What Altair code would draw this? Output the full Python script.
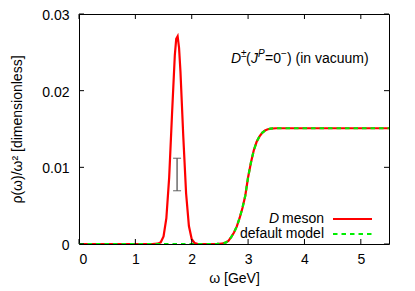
import altair as alt
import pandas as pd

# ---- data ----
omega_red = [0.0, 0.5, 1.0, 1.3, 1.40, 1.45, 1.50, 1.55, 1.60, 1.65, 1.70, 1.725, 1.75,
             1.775, 1.80, 1.85, 1.90, 1.95, 2.00, 2.05, 2.10, 2.20, 2.30, 2.40, 2.45, 2.50,
             2.55, 2.60, 2.65, 2.70, 2.75, 2.80, 2.85, 2.90, 2.95, 3.00, 3.05, 3.10, 3.15,
             3.20, 3.25, 3.30, 3.35, 3.40, 3.50, 4.00, 4.50, 5.00, 5.50]
rho_red = [0.0, 0.0, 0.0, 0.0, 0.00004, 0.00022, 0.00099, 0.00336, 0.00869, 0.01685, 0.02462,
           0.02676, 0.02710, 0.02560, 0.02250, 0.01406, 0.00662, 0.00235, 0.00063, 0.00013,
           0.00002, 0.0, 0.0, 0.0, 0.00001, 0.00003, 0.00008, 0.00018, 0.00040, 0.00090,
           0.00150, 0.00230, 0.00340, 0.00470, 0.00630, 0.00870, 0.01060, 0.01220, 0.01330,
           0.01400, 0.01450, 0.01480, 0.01497, 0.01505, 0.01510, 0.01510, 0.01510, 0.01510,
           0.01510]

omega_green = [0.0, 1.0, 2.0, 2.40, 2.45, 2.50, 2.55, 2.60, 2.65, 2.70, 2.75, 2.80, 2.85,
               2.90, 2.95, 3.00, 3.05, 3.10, 3.15, 3.20, 3.25, 3.30, 3.35, 3.40, 3.50,
               4.00, 4.50, 5.00, 5.50]
rho_green = [0.0, 0.0, 0.0, 0.0, 0.00001, 0.00003, 0.00008, 0.00018, 0.00040, 0.00090,
             0.00150, 0.00230, 0.00340, 0.00470, 0.00630, 0.00870, 0.01060, 0.01220,
             0.01330, 0.01400, 0.01450, 0.01480, 0.01497, 0.01505, 0.01510, 0.01510,
             0.01510, 0.01510, 0.01510]

errbar_omega = [1.74]
errbar_low = [0.00695]
errbar_high = [0.01118]

x_ticks = [0, 1, 2, 3, 4, 5]
y_ticks = [0.0, 0.01, 0.02, 0.03]

W, H = 310, 230
FONT = "Liberation Sans"

red_df = pd.DataFrame({"omega": omega_red, "rho": rho_red})
green_df = pd.DataFrame({"omega": omega_green, "rho": rho_green})
err_df = pd.DataFrame({"omega": errbar_omega, "lo": errbar_low, "hi": errbar_high})
xt_df = pd.DataFrame({"v": x_ticks})
yt_df = pd.DataFrame({"v": y_ticks})

xscale = alt.Scale(domain=[0, 5.5], nice=False, zero=False)
yscale = alt.Scale(domain=[0, 0.03], nice=False)

xaxis = alt.Axis(values=x_ticks, title="ω [GeV]", grid=False, ticks=False, domain=False,
                 labelPadding=8, labelFontSize=14, titleFontSize=14, labelFont=FONT,
                 titleFont=FONT, titleFontWeight="normal", titlePadding=5,
                 labelExpr="format(datum.value, 'd')",
                 labelColor="black", titleColor="black")
yaxis = alt.Axis(values=y_ticks, title="ρ(ω)/ω² [dimensionless]", grid=False, ticks=False,
                 domain=False, labelPadding=10, labelFontSize=14, titleFontSize=14,
                 labelFont=FONT, titleFont=FONT, titleFontWeight="normal", titlePadding=17,
                 labelOffset=1.5,
                 labelExpr="datum.value == 0 ? '0' : format(datum.value, '.2f')",
                 labelColor="black", titleColor="black")

red = alt.Chart(red_df).mark_line(color="#ff0000", strokeWidth=2.2, clip=True).encode(
    x=alt.X("omega:Q", scale=xscale, axis=xaxis),
    y=alt.Y("rho:Q", scale=yscale, axis=yaxis),
)
green = alt.Chart(green_df).mark_line(color="#00ee00", strokeWidth=2.2, strokeDash=[4.5, 4],
                                      clip=True).encode(
    x=alt.X("omega:Q", scale=xscale),
    y=alt.Y("rho:Q", scale=yscale),
)

err_rule = alt.Chart(err_df).mark_rule(color="#555555", strokeWidth=1.3).encode(
    x=alt.X("omega:Q", scale=xscale), y=alt.Y("lo:Q", scale=yscale), y2="hi:Q")
err_lo = alt.Chart(err_df).mark_tick(color="#555555", orient="horizontal", size=8,
                                     thickness=1.3).encode(
    x=alt.X("omega:Q", scale=xscale), y=alt.Y("lo:Q", scale=yscale))
err_hi = alt.Chart(err_df).mark_tick(color="#555555", orient="horizontal", size=8,
                                     thickness=1.3).encode(
    x=alt.X("omega:Q", scale=xscale), y=alt.Y("hi:Q", scale=yscale))

TL = 5
tick_style = dict(color="black", strokeWidth=1)
xt_bot = alt.Chart(xt_df).mark_rule(**tick_style).encode(
    x=alt.X("v:Q", scale=xscale), y=alt.value(H), y2=alt.value(H - TL))
xt_top = alt.Chart(xt_df).mark_rule(**tick_style).encode(
    x=alt.X("v:Q", scale=xscale), y=alt.value(0), y2=alt.value(TL))
yt_left = alt.Chart(yt_df).mark_rule(**tick_style).encode(
    y=alt.Y("v:Q", scale=yscale), x=alt.value(0), x2=alt.value(TL))
yt_right = alt.Chart(yt_df).mark_rule(**tick_style).encode(
    y=alt.Y("v:Q", scale=yscale), x=alt.value(W), x2=alt.value(W - TL))

# legend
LX_TEXT = 245  # right edge of legend text (plot coords)
leg_red_line = alt.Chart(pd.DataFrame({"a": [0]})).mark_rule(color="#ff0000", strokeWidth=2.2).encode(
    x=alt.value(254), x2=alt.value(293), y=alt.value(205))
leg_green_line = alt.Chart(pd.DataFrame({"a": [0]})).mark_rule(color="#00ee00", strokeWidth=2.2,
                                                               strokeDash=[4.5, 4]).encode(
    x=alt.value(254), x2=alt.value(293), y=alt.value(220))

def txt(s, x, y, size=14, style="normal", align="left"):
    return alt.Chart(pd.DataFrame({"t": [s]})).mark_text(
        font=FONT, fontSize=size, fontStyle=style, align=align, baseline="middle",
        color="black").encode(text="t:N", x=alt.value(x), y=alt.value(y))

leg_texts = [
    txt("meson", LX_TEXT, 205, align="right"),
    txt("D", LX_TEXT - 45, 205, style="italic", align="right"),
    txt("default model", LX_TEXT, 220, align="right"),
]

# annotation D±(J^P=0−) (in vacuum)
ay = 45
ax0 = 152
ann = [
    txt("D", ax0, ay, style="italic"),
    txt("±", ax0 + 10, ay - 5, size=10),
    txt("(", ax0 + 15, ay),
    txt("J", ax0 + 20, ay, style="italic"),
    txt("P", ax0 + 27, ay - 5, size=10, style="italic"),
    txt("=0", ax0 + 34, ay),
    txt("−", ax0 + 50, ay - 5, size=10),
    txt(") (in vacuum)", ax0 + 56, ay),
]

chart = alt.layer(
    red, green, err_rule, err_lo, err_hi, xt_bot, xt_top, yt_left, yt_right,
    leg_red_line, leg_green_line, *leg_texts, *ann,
).properties(
    width=W, height=H,
    autosize=alt.AutoSizeParams(type="none"),
    padding={"left": 71, "top": 6, "right": 10, "bottom": 47},
).configure_view(stroke="black", strokeWidth=1)

chart.save("out.html", embed_options={"renderer": "svg", "actions": False})
